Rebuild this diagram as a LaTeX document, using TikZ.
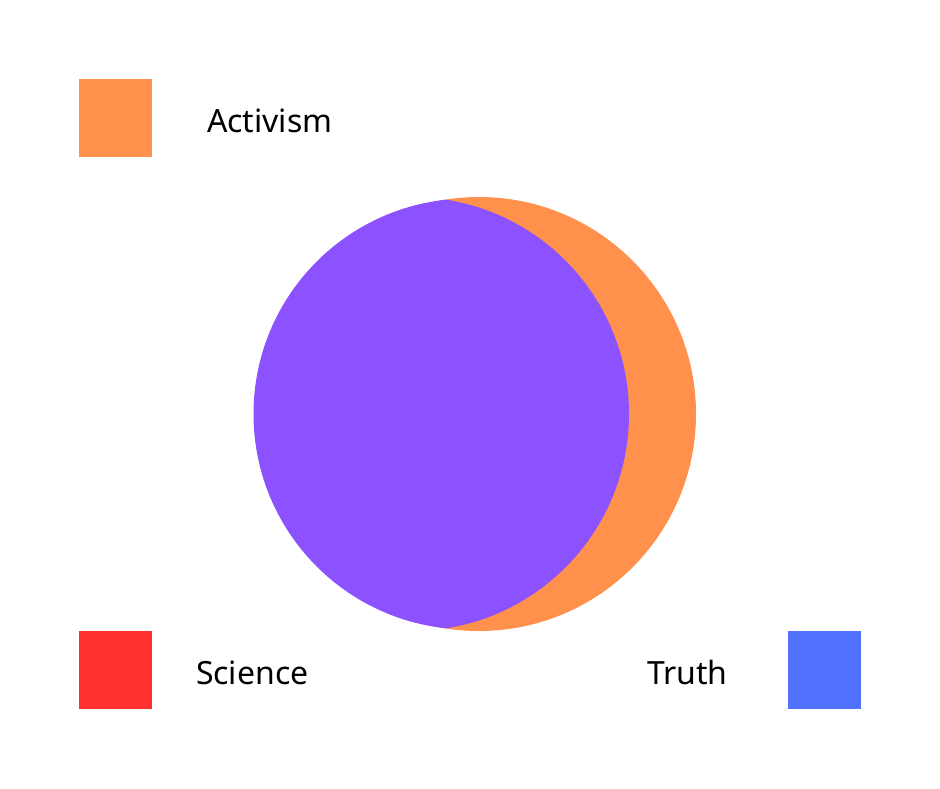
\documentclass[tikz,border=0pt]{standalone}
\usepackage{fontspec}
\setmainfont{Noto Sans}
\definecolor{actorange}{HTML}{FF914D}
\definecolor{mixpurple}{HTML}{8C52FF}
\definecolor{scired}{HTML}{FF3131}
\definecolor{truthblue}{HTML}{5271FF}
\begin{document}
\begin{tikzpicture}[x=1pt,y=-1pt,
  legendbox/.style={inner sep=0pt,outer sep=0pt,minimum width=73pt,minimum height=78pt,anchor=north west},
  legendtext/.style={inner sep=0pt,outer sep=0pt,anchor=base west,font=\fontsize{32}{36}\selectfont,text=black}]
\useasboundingbox (0,0) rectangle (940,788);
% circles
\fill[actorange] (479,414) circle[radius=217];
\begin{scope}
  \clip (412,414) circle[radius=217];
  \fill[mixpurple] (469,414) circle[radius=215.5];
\end{scope}
% legend
\node[legendbox,fill=actorange] (sqA) at (79,79) {};
\node[legendtext] (tA) at (207,132) {Activism};
\node[legendbox,fill=scired] (sqS) at (79,631) {};
\node[legendtext] (tS) at (196,684) {Science};
\node[legendbox,fill=truthblue] (sqT) at (788,631) {};
\node[legendtext] (tT) at (647,684) {Truth};
\end{tikzpicture}
\end{document}
